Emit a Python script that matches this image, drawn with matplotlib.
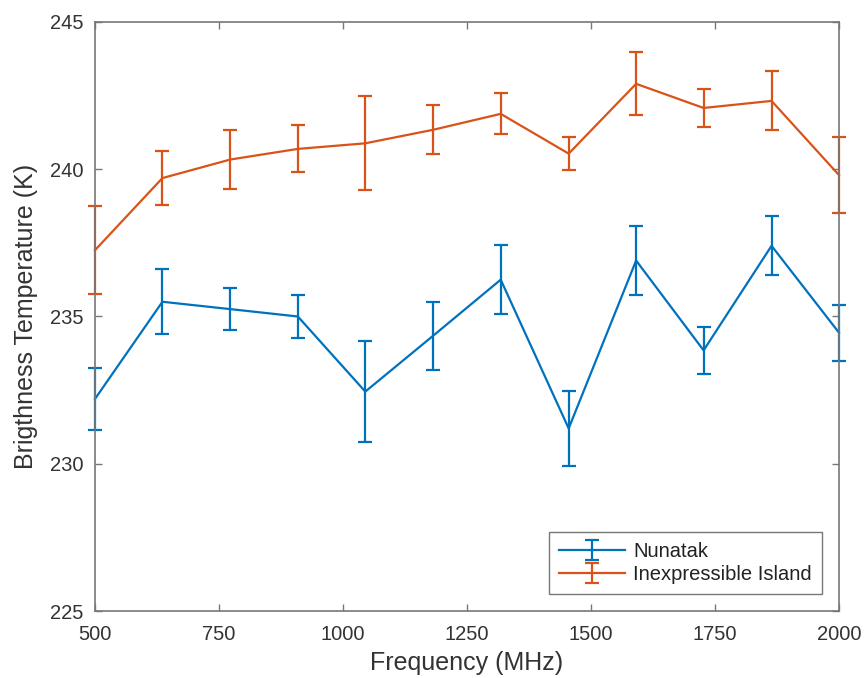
import matplotlib
matplotlib.use('Agg')
import matplotlib.pyplot as plt

plt.rcParams['font.family'] = ['Liberation Sans', 'DejaVu Sans']

# frequencies (MHz) and brightness temperatures (K) with 1-sigma errors
freq = [500, 636, 773, 909, 1045, 1182, 1318, 1455, 1591, 1727, 1864, 2000]

nunatak = [232.2, 235.5, 235.25, 235.0, 232.45, 234.35, 236.25, 231.2, 236.9, 233.85, 237.4, 234.45]
nunatak_err = [1.05, 1.1, 0.72, 0.74, 1.72, 1.15, 1.18, 1.27, 1.16, 0.81, 1.0, 0.95]

island = [237.25, 239.7, 240.33, 240.69, 240.88, 241.34, 241.88, 240.53, 242.9, 242.08, 242.32, 239.8]
island_err = [1.5, 0.92, 1.0, 0.8, 1.6, 0.83, 0.7, 0.56, 1.07, 0.63, 1.0, 1.3]

blue = '#0072BD'
orange = '#D95319'
grey = '#333333'

fig = plt.figure(figsize=(8.68, 6.78), dpi=100)
ax = fig.add_axes([0.1094, 0.0988, 0.8572, 0.8688])

ax.errorbar(freq, nunatak, yerr=nunatak_err, color=blue, lw=1.6,
            elinewidth=1.6, capsize=5, capthick=1.6, label='Nunatak', clip_on=False)
ax.errorbar(freq, island, yerr=island_err, color=orange, lw=1.6,
            elinewidth=1.6, capsize=5, capthick=1.6, label='Inexpressible Island', clip_on=False)

ax.set_xlim(500, 2000)
ax.set_ylim(225, 245)
ax.set_xticks([500, 750, 1000, 1250, 1500, 1750, 2000])
ax.set_yticks([225, 230, 235, 240, 245])

ax.tick_params(direction='in', top=True, right=True, length=5, width=1,
               color='#777777', labelcolor=grey, labelsize=14.5)
ax.tick_params(axis='y', pad=8)
ax.tick_params(axis='x', pad=10)
for sp in ax.spines.values():
    sp.set_color('#777777')
    sp.set_linewidth(1.2)

ax.set_xlabel('Frequency (MHz)', fontsize=18, color=grey, labelpad=5)
ax.set_ylabel('Brigthness Temperature (K)', fontsize=18, color=grey, labelpad=9)

leg = ax.legend(loc='lower right', fontsize=14.5, fancybox=False, framealpha=1,
                edgecolor='#777777', handlelength=3.3, borderpad=0.5,
                labelspacing=0.2, handletextpad=0.4, borderaxespad=0.85)
leg.get_frame().set_linewidth(1.0)
for t in leg.get_texts():
    t.set_color('#222222')

fig.savefig('out.png', dpi=100)
